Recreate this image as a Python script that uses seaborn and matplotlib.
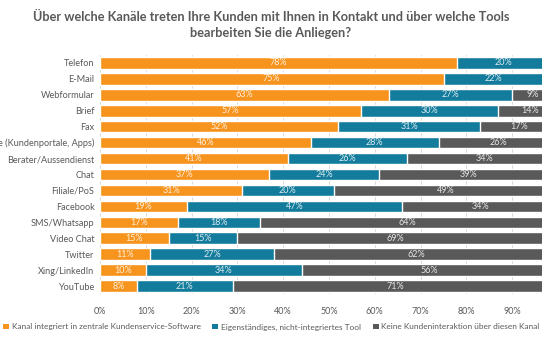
import matplotlib
matplotlib.use("Agg")
import matplotlib.pyplot as plt
import seaborn as sns
import pandas as pd
import numpy as np
from matplotlib.patches import Patch

channels = ["Telefon", "E-Mail", "Webformular", "Brief", "Fax",
            "Self-Service (Kundenportale, Apps)", "Berater/Aussendienst", "Chat",
            "Filiale/PoS", "Facebook", "SMS/Whatsapp", "Video Chat", "Twitter",
            "Xing/LinkedIn", "YouTube"]
integrated = [78, 75, 63, 57, 52, 46, 41, 37, 31, 19, 17, 15, 11, 10, 8]
standalone = [20, 22, 27, 30, 31, 28, 26, 24, 20, 47, 18, 15, 27, 34, 21]
none_ = [2, 3, 9, 14, 17, 26, 34, 39, 49, 34, 64, 69, 62, 56, 71]
series_names = ["Kanal integriert in zentrale Kundenservice-Software",
                "Eigenständiges, nicht-integriertes Tool",
                "Keine Kundeninteraktion über diesen Kanal"]
tick_vals = [0, 10, 20, 30, 40, 50, 60, 70, 80, 90]

colors = ["#F7941D", "#137C9C", "#595959"]
txt_gray = "#595959"

sns.set_theme(style="white")
plt.rcParams["font.family"] = ["Lato", "DejaVu Sans"]

df = pd.DataFrame({"channel": channels, "o": integrated, "t": standalone, "g": none_})
df["c1"] = df["o"]
df["c2"] = df["o"] + df["t"]
df["c3"] = df["o"] + df["t"] + df["g"]

fig = plt.figure(figsize=(5.42, 3.4), dpi=100)
ax = fig.add_axes([100/542, 1-294/340, 458/542, (294-55)/340])

for col, c in zip(["c3", "c2", "c1"], colors[::-1]):
    sns.barplot(data=df, x=col, y="channel", orient="h", color=c, width=0.72,
                saturation=1, ax=ax, zorder=3)

ax.set_xlim(0, 100)
ax.set_xticks(tick_vals + [100])
ax.set_xticklabels([f"{v}%" for v in tick_vals] + [""], fontsize=6.5, color=txt_gray)
ax.tick_params(axis="y", labelsize=6.6, colors=txt_gray, length=0, pad=4)
ax.tick_params(axis="x", length=0, pad=9)
ax.set_xlabel("")
ax.set_ylabel("")
ax.grid(axis="x", color="#D9D9D9", linewidth=0.7, zorder=0)
for s in ax.spines.values():
    s.set_visible(False)

for i in range(len(channels)):
    starts = [0, integrated[i], integrated[i] + standalone[i]]
    vals = [integrated[i], standalone[i], none_[i]]
    for st, v in zip(starts, vals):
        if v >= 5:
            ax.text(st + v / 2, i, f"{v}%", ha="center", va="center",
                    fontsize=6.5, color="white", alpha=0.85, zorder=5)

fig.text(0.5, 1-17/340, "Über welche Kanäle treten Ihre Kunden mit Ihnen in Kontakt und über welche Tools",
         ha="center", va="center", fontsize=9.2, fontweight="bold", color=txt_gray)
fig.text(0.5, 1-33/340, "bearbeiten Sie die Anliegen?",
         ha="center", va="center", fontsize=9.2, fontweight="bold", color=txt_gray)

handles = [Patch(facecolor=c, edgecolor="none") for c in colors]
fig.legend(handles, series_names, loc="center left", bbox_to_anchor=(0.006, 1-327/340),
           ncol=3, frameon=False, fontsize=5.95, handlelength=0.7, handleheight=0.7,
           handletextpad=0.35, columnspacing=1.4, labelcolor=txt_gray, borderaxespad=0,
           borderpad=0.0)

fig.savefig("out.png", dpi=100)
